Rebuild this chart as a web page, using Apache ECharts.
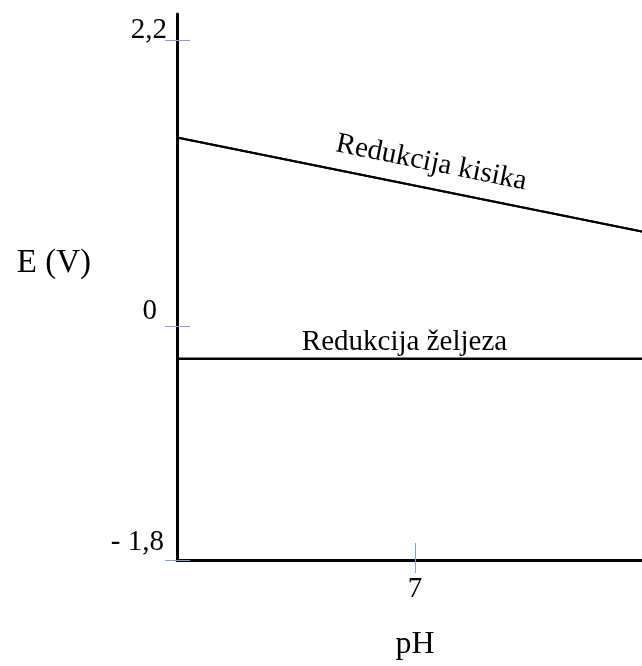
<!DOCTYPE html>
<html>
<head>
<meta charset="utf-8">
<script src="https://cdn.jsdelivr.net/npm/echarts@6/dist/echarts.min.js"></script>
<style>
html,body{margin:0;padding:0;background:#fff;overflow:hidden;width:642px;height:666px;}
#chart{width:653px;height:666px;}
</style>
</head>
<body>
<div id="chart"></div>
<script>
// ---- data ----
const pH = [0, 14];
const oxygenE = [1.45, 0.71];
const ironE = [-0.25, -0.25];
const oxygenName = 'Redukcija kisika';
const ironName = 'Redukcija željeza';
const yTickValues = [-1.8, 0, 2.2];
const yTickLabels = ['- 1,8', '0', '2,2'];
const xTickValues = [7];
const xTickLabels = ['7'];
const yAxisName = 'E (V)';
const xAxisName = 'pH';

// ---- chart ----
const FONT = "'Liberation Serif','Times New Roman',serif";
const TICK = '#7f9fd6';
const chart = echarts.init(document.getElementById('chart'), null, {renderer: 'canvas'});

const oxygenData = pH.map((x, i) => [x, oxygenE[i]]);
const ironData = pH.map((x, i) => [x, ironE[i]]);

function yLabel(v) {
  const i = yTickValues.findIndex(t => Math.abs(t - v) < 1e-6);
  return i < 0 ? '' : '{r' + i + '|' + yTickLabels[i] + '}';
}
function xLabel(v) {
  const i = xTickValues.findIndex(t => Math.abs(t - v) < 1e-6);
  return i < 0 ? '' : xTickLabels[i];
}

function labelLine(data, name, dist, pad) {
  return {
    silent: true,
    symbol: ['none', 'none'],
    lineStyle: {color: '#000', width: 2, type: 'solid'},
    label: {
      show: true,
      position: 'insideMiddleTop',
      formatter: name,
      fontFamily: FONT,
      fontSize: 29,
      color: '#000',
      distance: dist,
      padding: pad
    },
    data: [[{coord: data[0]}, {coord: data[1]}]]
  };
}

const textBase = {fontFamily: FONT, color: '#000'};

chart.setOption({
  animation: false,
  backgroundColor: '#fff',
  grid: {left: 177, right: 0, top: 14, bottom: 106, containLabel: false},
  xAxis: [{
    type: 'value', min: 0, max: 14, position: 'bottom',
    name: xAxisName, nameLocation: 'middle', nameGap: 69,
    nameTextStyle: Object.assign({fontSize: 32}, textBase),
    axisLine: {show: true, onZero: false, lineStyle: {color: '#000', width: 3}},
    axisTick: {show: true, inside: false, length: 13, customValues: xTickValues, lineStyle: {color: TICK, width: 1}},
    axisLabel: Object.assign({show: true, customValues: xTickValues, formatter: xLabel, fontSize: 29, margin: 15}, textBase),
    splitLine: {show: false}
  }, {
    type: 'value', min: 0, max: 14, position: 'bottom', offset: 0,
    axisLine: {show: false, onZero: false},
    axisTick: {show: true, inside: true, length: 17, customValues: xTickValues, lineStyle: {color: TICK, width: 1}},
    axisLabel: {show: false},
    splitLine: {show: false}
  }],
  yAxis: [{
    type: 'value', min: -1.8, max: 2.4, position: 'left',
    name: yAxisName, nameLocation: 'middle', nameRotate: 0, nameGap: 86,
    nameTextStyle: Object.assign({fontSize: 33, verticalAlign: 'bottom', lineHeight: 48}, textBase),
    axisLine: {show: true, onZero: false, lineStyle: {color: '#000', width: 3}},
    axisTick: {show: true, inside: false, length: 12, customValues: yTickValues, lineStyle: {color: TICK, width: 1}},
    axisLabel: Object.assign({
      show: true, customValues: yTickValues, formatter: yLabel, fontSize: 29, margin: 10,
      rich: {
        r0: {fontFamily: FONT, fontSize: 29, color: '#000', lineHeight: 29, padding: [0, 3, 36, 0]},
        r1: {fontFamily: FONT, fontSize: 29, color: '#000', lineHeight: 29, padding: [0, 10, 30, 0]},
        r2: {fontFamily: FONT, fontSize: 29, color: '#000', lineHeight: 29, padding: [0, 0, 20, 0]}
      }
    }, textBase),
    splitLine: {show: false}
  }, {
    type: 'value', min: -1.8, max: 2.4, position: 'left', offset: 0,
    axisLine: {show: false, onZero: false},
    axisTick: {show: true, inside: true, length: 13, customValues: yTickValues, lineStyle: {color: TICK, width: 1}},
    axisLabel: {show: false},
    splitLine: {show: false}
  }],
  series: [{
    name: oxygenName, type: 'line', xAxisIndex: 0, yAxisIndex: 0,
    data: oxygenData, symbol: 'none',
    lineStyle: {color: '#000', width: 2},
    markLine: labelLine(oxygenData, oxygenName, 11, [0, 0, 0, 23])
  }, {
    name: ironName, type: 'line', xAxisIndex: 0, yAxisIndex: 0,
    data: ironData, symbol: 'none',
    lineStyle: {color: '#000', width: 2},
    markLine: labelLine(ironData, ironName, 2, [0, 21, 0, 0])
  }]
});
</script>
</body>
</html>
